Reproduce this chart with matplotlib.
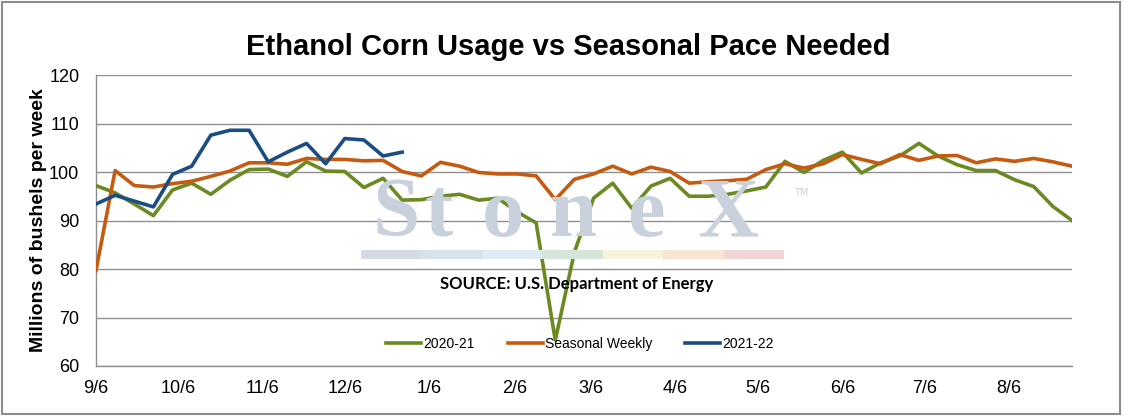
import matplotlib
matplotlib.use("Agg")
import matplotlib.pyplot as plt
import matplotlib.dates as mdates
from matplotlib.patches import Rectangle
import pandas as pd

# weekly ethanol corn usage, millions of bushels
start_date = "2021-09-06"
n_weeks = 52

usage_2020_21 = [97.2, 95.7, 93.4, 91.0, 96.3, 97.7, 95.4, 98.3, 100.5, 100.6,
                 99.1, 102.1, 100.2, 100.1, 96.8, 98.7, 94.2, 94.3, 95.0, 95.4,
                 94.2, 94.6, 91.8, 89.5, 65.3, 83.5, 94.6, 97.7, 92.5, 97.1,
                 98.7, 95.0, 95.0, 95.4, 96.1, 96.9, 102.2, 99.9, 102.4, 104.1,
                 99.8, 101.9, 103.3, 105.9, 103.3, 101.5, 100.3, 100.3, 98.4, 97.0,
                 92.9, 90.0]

seasonal_weekly = [79.7, 100.3, 97.2, 96.9, 97.6, 98.1, 99.1, 100.2, 101.9, 101.9,
                   101.6, 102.8, 102.6, 102.6, 102.3, 102.4, 100.1, 99.2, 102.0, 101.2,
                   99.9, 99.6, 99.6, 99.2, 94.3, 98.5, 99.6, 101.2, 99.6, 101.0,
                   100.1, 97.7, 98.0, 98.2, 98.5, 100.5, 101.7, 100.8, 101.7, 103.6,
                   102.6, 101.7, 103.6, 102.4, 103.3, 103.4, 101.9, 102.7, 102.2, 102.8,
                   102.1, 101.2]

usage_2021_22 = [93.4, 95.2, 94.0, 92.8, 99.5, 101.2, 107.6, 108.6, 108.6, 102.1,
                 104.1, 105.9, 101.7, 106.9, 106.6, 103.3, 104.1]

series_labels = ["2020-21", "Seasonal Weekly", "2021-22"]
series_colors = ["#6B8A22", "#C55A11", "#1A4E82"]

watermark_letters = ["S", "t", "o", "n", "e", "X"]
watermark_bar_colors = ["#d4dbe4", "#d8e2ed", "#deeaf4", "#d5e5da",
                        "#f6f4dc", "#f8e5d1", "#f3d5d8"]

weeks = pd.date_range(start_date, periods=n_weeks, freq="7D")

W, H = 1123, 416
fig = plt.figure(figsize=(W / 100, H / 100), dpi=100)
ax = fig.add_axes([96 / W, 1 - 366 / H, 976 / W, 291 / H])

# watermark behind everything
wm_x = [396, 439, 503, 573, 646, 728]
for letter, xp in zip(watermark_letters, wm_x):
    fig.text(xp / W, 1 - 236 / H, letter, fontsize=61, fontweight="bold",
             family="Liberation Serif", color="#c9d1dc",
             ha="center", va="baseline", zorder=0)
fig.text(801 / W, 1 - 193 / H, "TM", fontsize=7, color="#c9d1dc",
         ha="center", va="center", zorder=0)
seg_w = (784 - 361) / len(watermark_bar_colors)
for k, c in enumerate(watermark_bar_colors):
    fig.patches.append(Rectangle(((361 + k * seg_w) / W, 1 - 259 / H), seg_w / W, 9 / H,
                                 transform=fig.transFigure, facecolor=c,
                                 edgecolor="none", zorder=0))
ax.patch.set_alpha(0)

ax.plot(weeks, usage_2020_21, color=series_colors[0], lw=2.6, label=series_labels[0],
        solid_joinstyle="round", zorder=3)
ax.plot(weeks, seasonal_weekly, color=series_colors[1], lw=2.6, label=series_labels[1],
        solid_joinstyle="round", zorder=3)
ax.plot(weeks[:len(usage_2021_22)], usage_2021_22, color=series_colors[2], lw=2.6,
        label=series_labels[2], solid_joinstyle="round", zorder=4)

ax.set_ylim(60, 120)
ax.set_yticks(range(60, 121, 10))
ax.set_xlim(weeks[0], weeks[-1])
ax.xaxis.set_major_locator(mdates.MonthLocator(bymonthday=6))
ax.xaxis.set_major_formatter(plt.FuncFormatter(
    lambda v, pos: "%d/%d" % (mdates.num2date(v).month, mdates.num2date(v).day)))

ax.grid(axis="y", color="#8f8f8f", lw=1.0)
ax.set_axisbelow(True)
for s in ["top", "right"]:
    ax.spines[s].set_visible(False)
for s in ["left", "bottom"]:
    ax.spines[s].set_color("#8f8f8f")
    ax.spines[s].set_linewidth(1.0)
ax.tick_params(axis="both", length=0, labelsize=13, colors="black")
ax.tick_params(axis="y", pad=12)
ax.tick_params(axis="x", pad=10)
for lab in ax.get_xticklabels() + ax.get_yticklabels():
    lab.set_family("Liberation Sans")

ax.set_ylabel("Millions of bushels per week", fontsize=14, fontweight="bold",
              family="Liberation Sans")
ax.yaxis.set_label_coords(-49 / 976, 0.5)

fig.text(568 / W, 1 - 47 / H, "Ethanol Corn Usage vs Seasonal Pace Needed",
         fontsize=21, fontweight="bold", family="Liberation Sans",
         ha="center", va="center")

fig.text(577 / W, 1 - 284 / H, "SOURCE: U.S. Department of Energy",
         fontsize=12, fontweight="bold", family="Lato", ha="center", va="center")

leg = ax.legend(loc="center", bbox_to_anchor=(580 / W, 1 - 344 / H),
                bbox_transform=fig.transFigure, ncol=3, frameon=False,
                prop={"family": "Liberation Sans", "size": 10},
                handlelength=2.5, handletextpad=0.15, columnspacing=2.4)

fig.patches.append(Rectangle((2 / W, 2 / H), (W - 5) / W, (H - 4) / H,
                             transform=fig.transFigure, facecolor="none",
                             edgecolor="#8c8c8c", lw=1.5, zorder=10))

fig.savefig("out.png", dpi=100)
